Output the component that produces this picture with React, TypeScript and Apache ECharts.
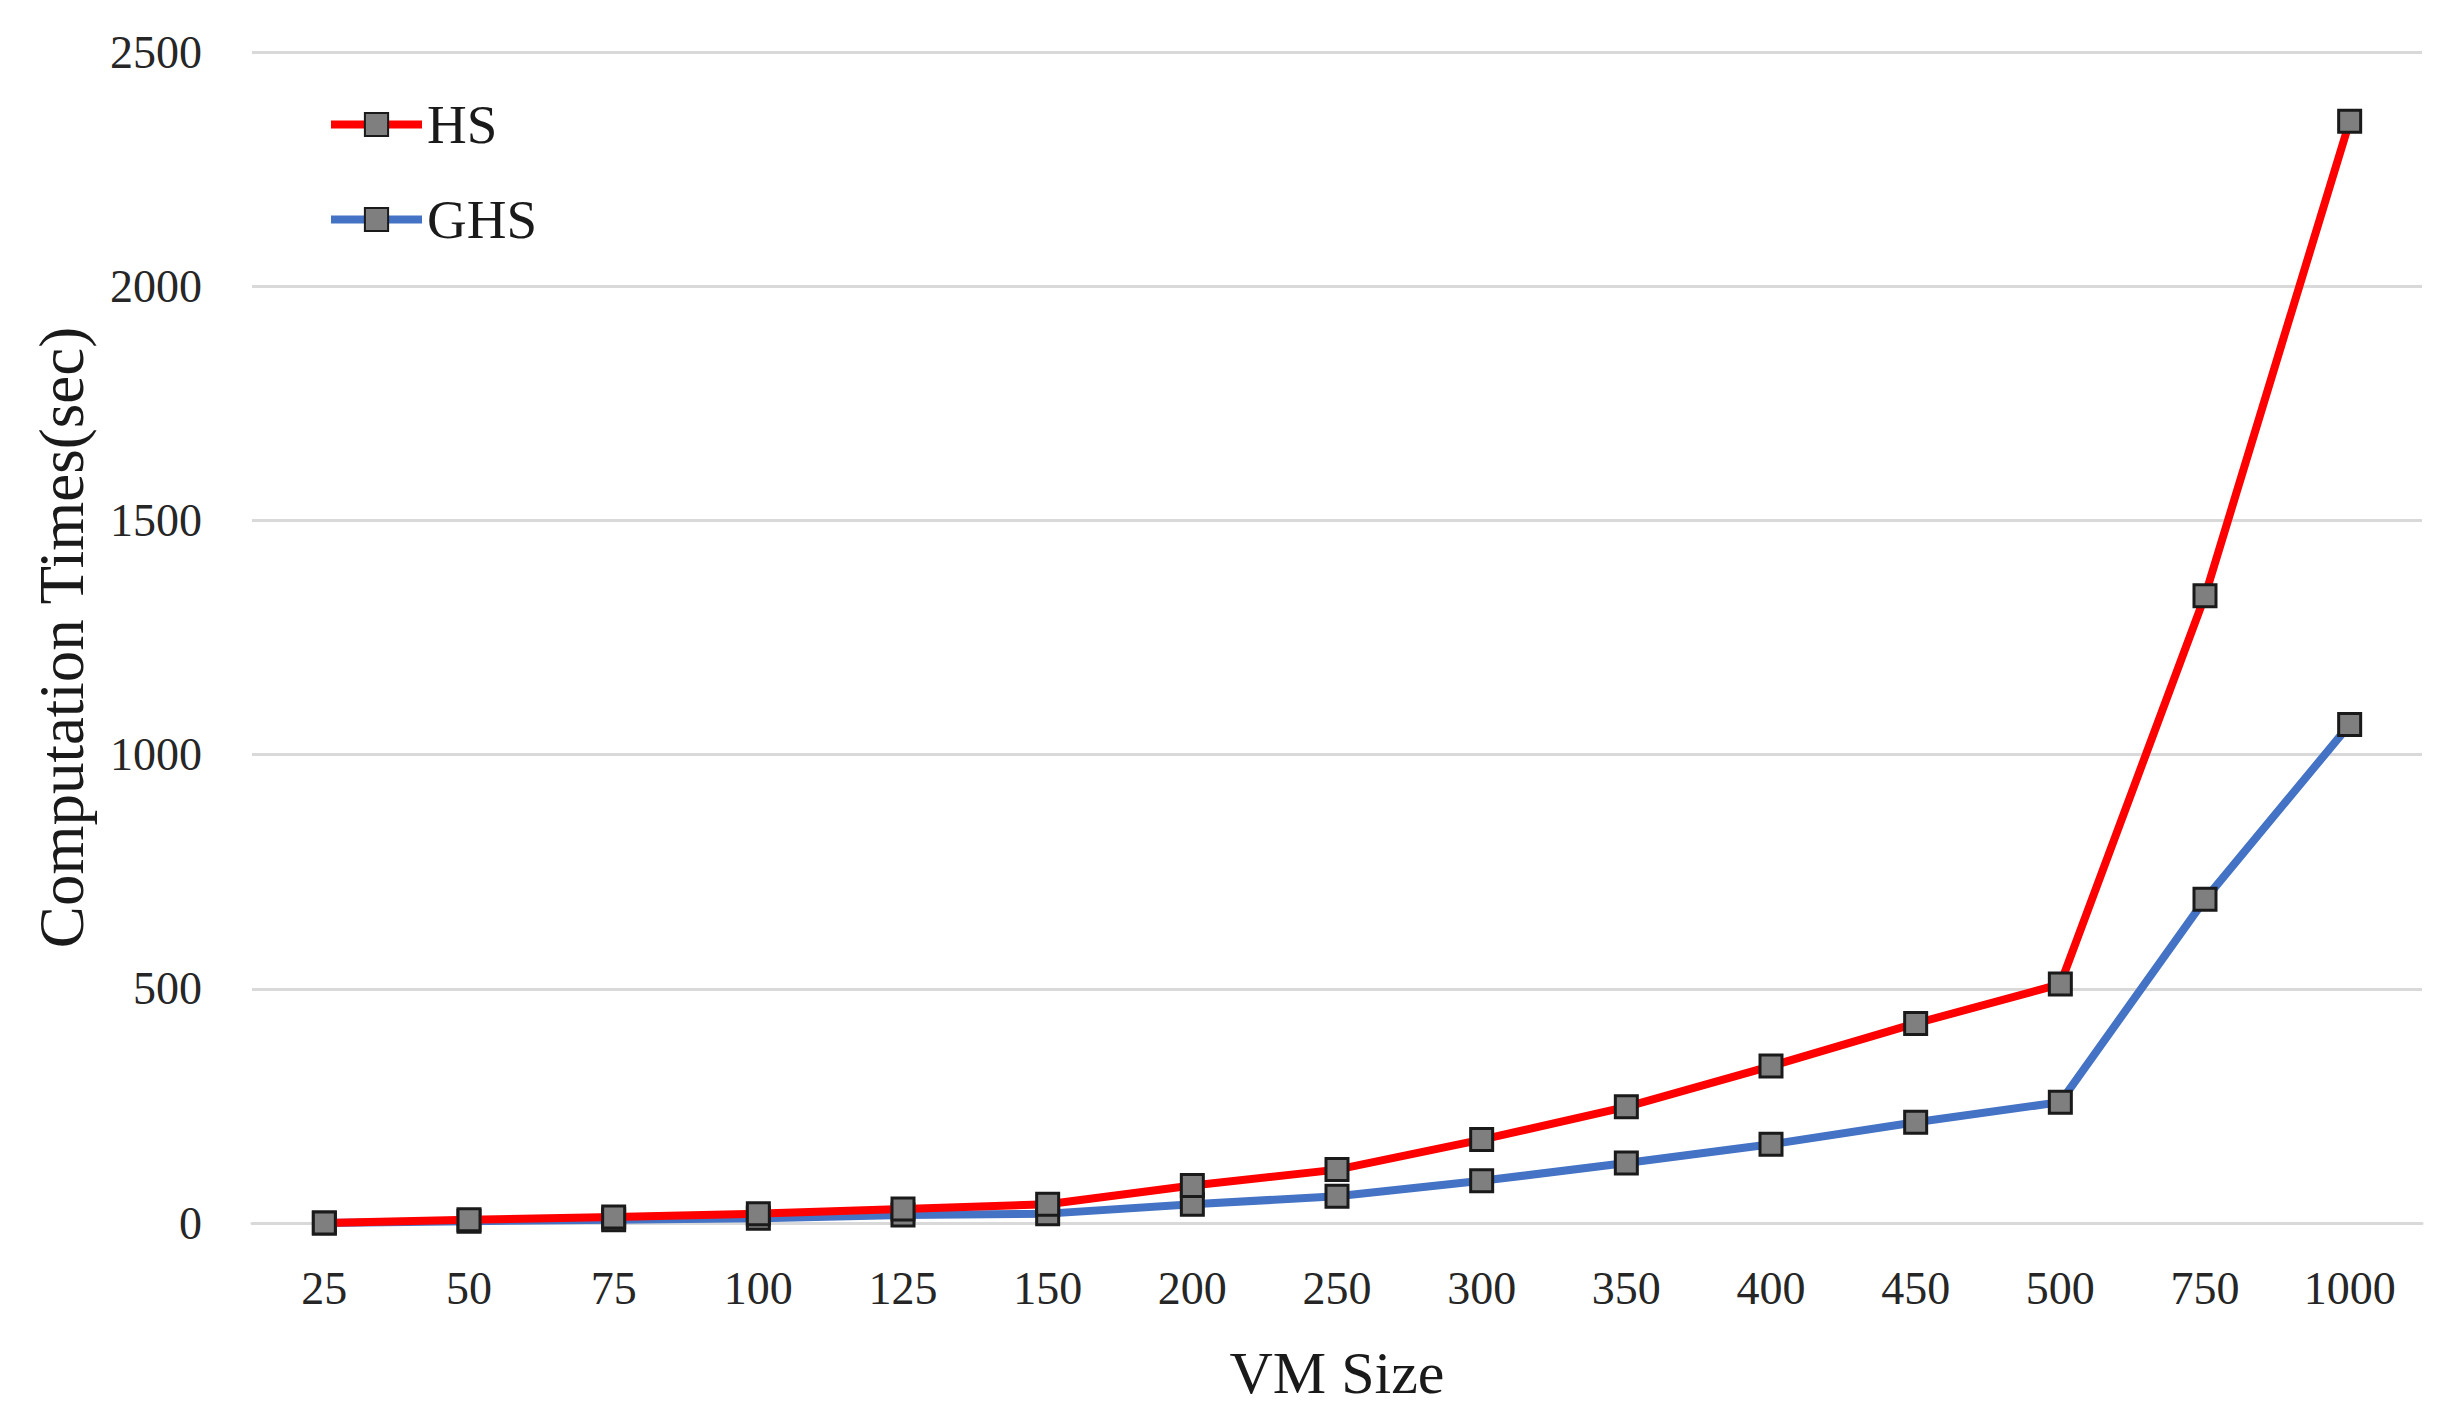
import React, { useEffect, useRef } from "react";
import * as echarts from "echarts";

const categories = ["25", "50", "75", "100", "125", "150", "200", "250", "300", "350", "400", "450", "500", "750", "1000"];
const hsValues = [0, 7, 13, 20, 30, 40, 80, 114, 178, 248, 335, 426, 510, 1339, 2352];
const ghsValues = [0, 4, 7, 10, 17, 20, 40, 57, 90, 128, 168, 215, 258, 691, 1064];
const yTicks = { min: 0, max: 2500, interval: 500 };

const FONT = "'Liberation Serif', 'Times New Roman', serif";

export default function App() {
  const ref = useRef<HTMLDivElement>(null);
  useEffect(() => {
    document.body.style.margin = "0";
    const chart = echarts.init(ref.current!, null, { renderer: "svg" });
    const markerStyle = { color: "#7f7f7f", borderColor: "#1a1a1a", borderWidth: 3 };
    chart.setOption({
      animation: false,
      backgroundColor: "#ffffff",
      textStyle: { fontFamily: FONT },
      grid: { left: 252, right: 38, top: 52, bottom: 197, containLabel: false },
      legend: {
        orient: "vertical",
        left: 327,
        top: 97,
        padding: 0,
        itemWidth: 91,
        itemHeight: 29,
        itemGap: 40,
        lineStyle: { width: 8 },
        textStyle: { fontFamily: FONT, fontSize: 55, color: "#1a1a1a", lineHeight: 54 },
        data: ["HS", "GHS"],
      },
      xAxis: {
        type: "category",
        data: categories,
        boundaryGap: true,
        name: "VM Size",
        nameLocation: "middle",
        nameGap: 120,
        nameTextStyle: { fontFamily: FONT, fontSize: 60, color: "#1a1a1a" },
        axisLine: { show: true, lineStyle: { color: "#d9d9d9", width: 3 } },
        axisTick: { show: false },
        axisLabel: { fontFamily: FONT, fontSize: 46, color: "#262626", margin: 42 },
      },
      yAxis: {
        type: "value",
        min: yTicks.min,
        max: yTicks.max,
        interval: yTicks.interval,
        name: "Computation Times(sec)",
        nameLocation: "middle",
        nameGap: 159,
        nameTextStyle: { fontFamily: FONT, fontSize: 63, color: "#1a1a1a" },
        axisLine: { show: false },
        axisTick: { show: false },
        axisLabel: {
          fontFamily: FONT,
          fontSize: 46,
          color: "#262626",
          margin: 50,
          formatter: (v: number) => String(v),
        },
        splitLine: { show: true, lineStyle: { color: "#d9d9d9", width: 3 } },
      },
      series: [
        {
          name: "HS",
          type: "line",
          data: hsValues,
          symbol: "rect",
          symbolSize: 22,
          z: 3,
          lineStyle: { color: "#ff0000", width: 8 },
          itemStyle: markerStyle,
        },
        {
          name: "GHS",
          type: "line",
          data: ghsValues,
          symbol: "rect",
          symbolSize: 22,
          z: 2,
          lineStyle: { color: "#4472c4", width: 8 },
          itemStyle: markerStyle,
        },
      ],
    });
    return () => chart.dispose();
  }, []);
  return <div ref={ref} style={{ width: 2460, height: 1420 }} />;
}
